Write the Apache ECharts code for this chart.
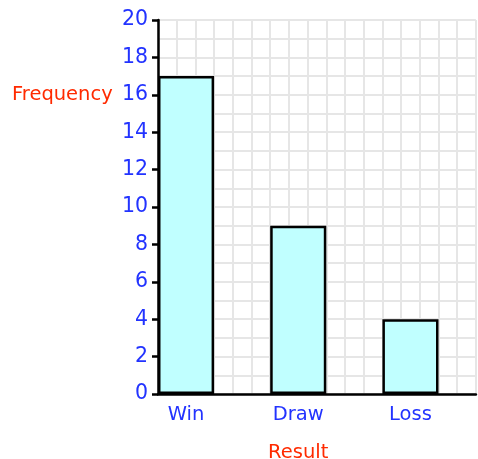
<!DOCTYPE html>
<html><head><meta charset="utf-8">
<script src="https://cdn.jsdelivr.net/npm/echarts@6/dist/echarts.min.js"></script>
<style>html,body{margin:0;padding:0;background:#fff}#c{width:478px;height:459px}</style>
</head><body><div id="c"></div>
<script>
const categories = ['Win', 'Draw', 'Loss'];
const frequencies = [17, 9, 4];
const yTicks = [0, 2, 4, 6, 8, 10, 12, 14, 16, 18, 20];

const FONT = 'DejaVu Sans';
const BLUE = '#2233ff';
const RED = '#ff2a00';
const cell = 18.7;
const left0 = 158, top0 = 20, h = 20 * cell;

const chart = echarts.init(document.getElementById('c'), null, {renderer: 'canvas'});
chart.setOption({
  backgroundColor: '#fff',
  animation: false,
  title: {
    text: 'Frequency', left: 7, top: 80,
    textStyle: {fontFamily: FONT, fontSize: 19.5, fontWeight: 'normal', color: RED}
  },
  grid: [
    {left: left0, top: top0, width: 17 * cell, height: h, containLabel: false, outerBoundsMode: 'none'},
    {left: left0 + 1.5 * cell, top: top0, width: 12 * cell, height: h, containLabel: false, outerBoundsMode: 'none'}
  ],
  xAxis: [
    {
      gridIndex: 0, type: 'value', min: 0, max: 17, interval: 1,
      axisLine: {show: true, onZero: false, lineStyle: {color: '#000', width: 2.5}},
      axisTick: {show: false}, axisLabel: {show: false},
      splitLine: {show: true, lineStyle: {color: '#e6e6e6', width: 2}}
    },
    {
      gridIndex: 1, type: 'category', data: categories, boundaryGap: false,
      axisLine: {show: false}, axisTick: {show: false},
      axisLabel: {show: true, margin: 11, fontFamily: FONT, fontSize: 19.5, color: BLUE},
      splitLine: {show: false},
      name: 'Result', nameLocation: 'middle', nameGap: 49,
      nameTextStyle: {fontFamily: FONT, fontSize: 19.5, color: RED}
    }
  ],
  yAxis: [
    {
      gridIndex: 0, type: 'value', min: yTicks[0], max: yTicks[yTicks.length - 1], interval: 2,
      axisLine: {show: true, onZero: false, lineStyle: {color: '#000', width: 2.5}},
      axisTick: {show: true, length: 6, lineStyle: {color: '#000', width: 2.5}},
      axisLabel: {show: true, margin: 10, fontFamily: FONT, fontSize: 20.5, color: BLUE},
      splitLine: {show: true, lineStyle: {color: '#e6e6e6', width: 2}},
      minorTick: {show: false, splitNumber: 2},
      minorSplitLine: {show: true, lineStyle: {color: '#e6e6e6', width: 2}}
    },
    {
      gridIndex: 1, type: 'value', min: yTicks[0], max: yTicks[yTicks.length - 1],
      show: false, splitLine: {show: false}
    }
  ],
  series: [{
    type: 'bar', xAxisIndex: 1, yAxisIndex: 1,
    data: frequencies, barWidth: 3 * cell,
    itemStyle: {color: '#c0ffff', borderColor: '#000', borderWidth: 2.5},
    z: 5
  }]
});
</script></body></html>
